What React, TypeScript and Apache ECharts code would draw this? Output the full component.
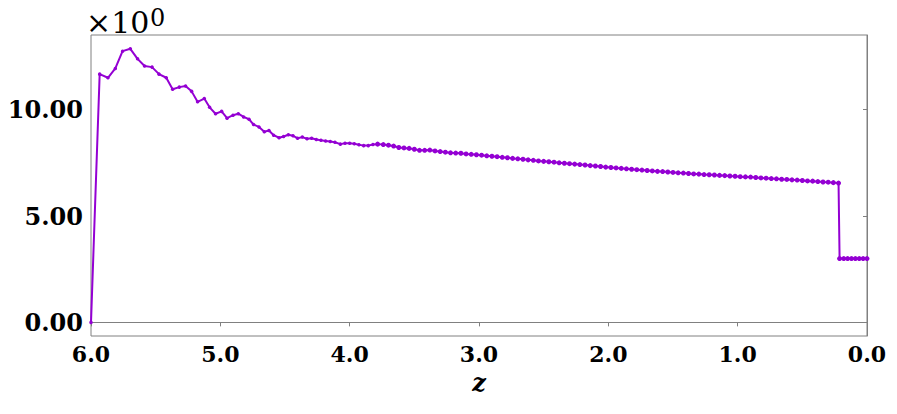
import React, { useEffect, useRef } from "react";
import * as echarts from "echarts";

// Redshift values (x) and quantity (y)
const zValues: number[] = [
  6.0, 5.933, 5.869, 5.812, 5.756, 5.696, 5.64, 5.586, 5.528, 5.474, 5.418, 5.369,
  5.317, 5.269, 5.222, 5.176, 5.124, 5.083, 5.037, 4.99, 4.948, 4.902, 4.861, 4.82,
  4.778, 4.743, 4.701, 4.66, 4.624, 4.588, 4.546, 4.511, 4.474, 4.438, 4.403, 4.366,
  4.33, 4.294, 4.258, 4.222, 4.186, 4.15, 4.114, 4.072, 4.036, 4.0, 3.964, 3.928,
  3.892, 3.856, 3.82, 3.784,
  3.74, 3.7, 3.66, 3.62, 3.58, 3.54, 3.5, 3.46, 3.42, 3.38, 3.34, 3.3, 3.26, 3.22,
  3.18, 3.14, 3.1, 3.06, 3.02, 2.98, 2.94, 2.9, 2.86, 2.82, 2.78, 2.74, 2.7, 2.66,
  2.62, 2.58, 2.54, 2.5, 2.46, 2.42, 2.38, 2.34, 2.3, 2.26, 2.22, 2.18, 2.14, 2.1,
  2.06, 2.02, 1.98, 1.94, 1.9, 1.86, 1.82, 1.78, 1.74, 1.7, 1.66, 1.62, 1.58, 1.54,
  1.5, 1.46, 1.42, 1.38, 1.34, 1.3, 1.26, 1.22, 1.18, 1.14, 1.1, 1.06, 1.02, 0.98,
  0.94, 0.9, 0.86, 0.82, 0.78, 0.74, 0.7, 0.66, 0.62, 0.58, 0.54, 0.5, 0.46, 0.42,
  0.38, 0.34, 0.3, 0.26, 0.22,
  0.212, 0.18, 0.15, 0.12, 0.09, 0.06, 0.03, 0.0,
];
const yValues: number[] = [
  0.0, 11.67, 11.5, 11.94, 12.75, 12.86, 12.39, 12.05, 12.0, 11.67, 11.5, 10.96,
  11.06, 11.11, 10.86, 10.37, 10.52, 10.11, 9.81, 9.92, 9.6, 9.74, 9.81, 9.66,
  9.55, 9.3, 9.19, 8.96, 9.02, 8.8, 8.68, 8.74, 8.82, 8.77, 8.66, 8.71,
  8.63, 8.66, 8.6, 8.56, 8.53, 8.5, 8.47, 8.38, 8.42, 8.42, 8.4, 8.35,
  8.31, 8.31, 8.36, 8.38,
  8.36, 8.33, 8.29, 8.22, 8.2, 8.18, 8.14, 8.09, 8.09, 8.1, 8.06, 8.03, 8.0, 7.97,
  7.96, 7.95, 7.92, 7.9, 7.88, 7.86, 7.83, 7.81, 7.79, 7.76, 7.74, 7.71, 7.69, 7.67,
  7.64, 7.62, 7.59, 7.57, 7.55, 7.53, 7.5, 7.48, 7.46, 7.44, 7.42, 7.4, 7.37, 7.35,
  7.33, 7.3, 7.28, 7.26, 7.24, 7.22, 7.2, 7.18, 7.16, 7.14, 7.12, 7.1, 7.09, 7.07,
  7.05, 7.03, 7.02, 7.0, 6.98, 6.97, 6.95, 6.94, 6.93, 6.91, 6.9, 6.88, 6.87, 6.85,
  6.84, 6.83, 6.81, 6.79, 6.78, 6.76, 6.75, 6.73, 6.72, 6.7, 6.69, 6.67, 6.65, 6.64,
  6.62, 6.6, 6.59, 6.57, 6.55,
  3.0, 3.0, 3.0, 3.0, 3.0, 3.0, 3.0, 3.0,
];
const xTicks: number[] = [0, 1, 2, 3, 4, 5, 6];
const yTicks: number[] = [0, 5, 10];

export default function App() {
  const ref = useRef<HTMLDivElement>(null);
  useEffect(() => {
    if (!ref.current) return;
    const chart = echarts.init(ref.current, null, { renderer: "svg" });
    const data = zValues.map((z, i) => [z, yValues[i]]);
    chart.setOption({
      animation: false,
      backgroundColor: "#fff",
      title: [
        {
          text: "×10",
          left: 86,
          top: 7,
          padding: 0,
          textStyle: {
            fontFamily: "DejaVu Serif",
            fontWeight: "normal",
            fontSize: 30,
            color: "#000",
          },
        },
        {
          text: "0",
          left: 150,
          top: 6,
          padding: 0,
          textStyle: {
            fontFamily: "DejaVu Serif",
            fontWeight: "normal",
            fontSize: 24,
            color: "#000",
          },
        },
      ],
      grid: {
        left: 91,
        right: 30,
        top: 35,
        bottom: 78,
        show: true,
        borderColor: "#808080",
        borderWidth: 1,
      },
      xAxis: {
        type: "value",
        min: 0,
        max: 6,
        inverse: true,
        interval: 1,
        name: "z",
        nameLocation: "middle",
        nameGap: 34,
        nameTextStyle: {
          fontFamily: "DejaVu Serif",
          fontWeight: "bold",
          fontStyle: "italic",
          fontSize: 24,
          color: "#000",
        },
        axisLine: { show: true, lineStyle: { color: "#808080", width: 1 } },
        axisTick: {
          show: true,
          inside: false,
          length: 4,
          customValues: xTicks,
          lineStyle: { color: "#808080" },
        },
        axisLabel: {
          fontFamily: "DejaVu Serif",
          fontWeight: "bold",
          fontSize: 22,
          color: "#000",
          margin: 7,
          customValues: xTicks,
          formatter: (v: number) => v.toFixed(1),
        },
        splitLine: { show: false },
      },
      yAxis: {
        type: "value",
        min: -0.64,
        max: 13.51,
        axisLine: { show: true, lineStyle: { color: "#808080", width: 1 } },
        axisTick: {
          show: true,
          inside: false,
          length: 4,
          customValues: yTicks,
          lineStyle: { color: "#808080" },
        },
        axisLabel: {
          fontFamily: "DejaVu Serif",
          fontWeight: "bold",
          fontSize: 24,
          color: "#000",
          margin: 8,
          customValues: yTicks,
          formatter: (v: number) => v.toFixed(2),
        },
        splitLine: { show: false },
      },
      series: [
        {
          type: "line",
          data,
          showSymbol: true,
          symbol: "circle",
          symbolSize: (v: number[]) => (v[0] < 3.8 ? 5 : 3.5),
          lineStyle: { color: "#9400d3", width: 2 },
          itemStyle: { color: "#9400d3" },
          clip: false,
        },
      ],
    });
    return () => chart.dispose();
  }, []);
  return (
    <div
      ref={ref}
      style={{ position: "fixed", left: 0, top: 0, width: 897, height: 414 }}
    />
  );
}
